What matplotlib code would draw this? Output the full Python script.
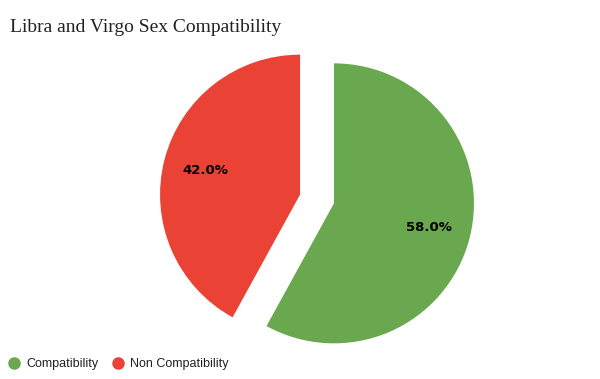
import matplotlib
matplotlib.use("Agg")
import matplotlib.pyplot as plt
from matplotlib.lines import Line2D

categories = ["Compatibility", "Non Compatibility"]
values = [58.0, 42.0]
colors = ["#6aa84f", "#ea4335"]
title = "Libra and Virgo Sex Compatibility"

fig = plt.figure(figsize=(6, 3.79), dpi=100)
ax = fig.add_axes([0, 0, 1, 1])
R = 140.0

wedges, texts, autotexts = ax.pie(
    values, colors=colors, startangle=90, counterclock=False,
    explode=[0.125, 0.125], autopct="%1.1f%%", pctdistance=0.7,
    radius=1.0, frame=True,
    textprops=dict(fontsize=9.5, fontweight="heavy", color="black", family="DejaVu Sans"),
)
ax.set_xlim(-317 / R, 283 / R)
ax.set_ylim(-180 / R, 199 / R)
ax.axis("off")

fig.text(10 / 600, 1 - 27 / 379, title, fontsize=14, family="Liberation Serif",
         va="center", ha="left", color="#222222")

handles = [Line2D([0], [0], marker="o", linestyle="none", markersize=8,
                  markerfacecolor=c, markeredgecolor=c) for c in colors]
leg = fig.legend(handles, categories, loc="center left",
                 bbox_to_anchor=(-0.002, 1 - 364 / 379), ncol=2, frameon=False,
                 prop=dict(family="Liberation Sans", size=9), handletextpad=0.5,
                 columnspacing=1.05, handlelength=1.0, borderaxespad=0.3)
for t in leg.get_texts():
    t.set_color("#222222")

fig.savefig("out.png", dpi=100)
